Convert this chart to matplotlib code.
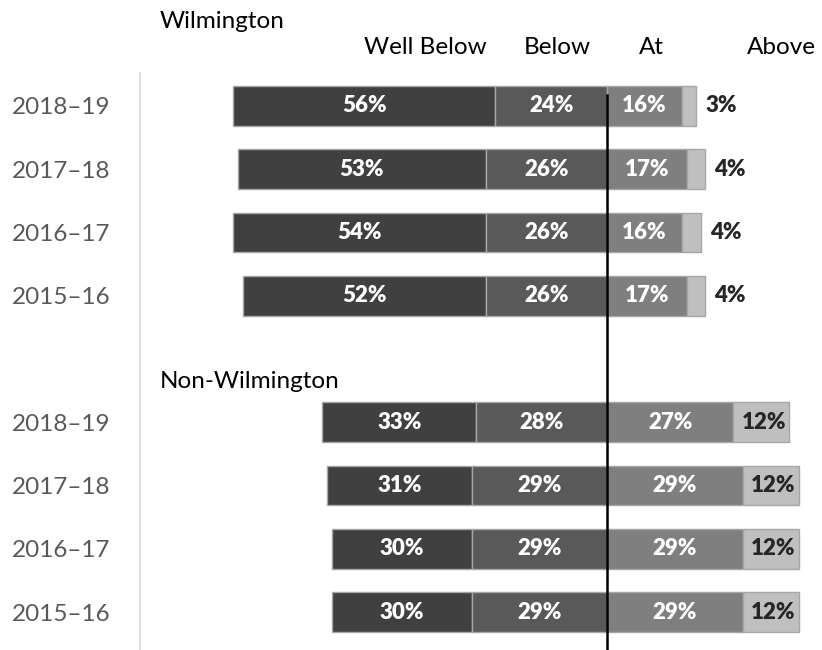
import numpy as np
import matplotlib.pyplot as plt

plt.rcParams['font.family'] = ['Lato', 'DejaVu Sans']

# datos
years = ["2018–19", "2017–18", "2016–17", "2015–16"]
groups = ["Wilmington", "Non-Wilmington"]
categories = ["Well Below", "Below", "At", "Above"]

well_below = [56, 53, 54, 52, 33, 31, 30, 30]
below = [24, 26, 26, 26, 28, 29, 29, 29]
at = [16, 17, 16, 17, 27, 29, 29, 29]
above = [3, 4, 4, 4, 12, 12, 12, 12]

colors = ["#404040", "#595959", "#7f7f7f", "#bfbfbf"]

# filas: 4 de Wilmington, una fila vacia, 4 de Non-Wilmington
rows = np.array([0, 1, 2, 3, 5, 6, 7, 8])

wb = np.array(well_below)
bl = np.array(below)
at_ = np.array(at)
ab = np.array(above)

fig = plt.figure(figsize=(8.22, 6.5), dpi=100)
ax = fig.add_axes([140 / 822, 0, 1 - 140 / 822, 1 - 73 / 650])

h = 0.63
edge = dict(edgecolor="#a6a6a6", linewidth=1)
ax.barh(rows, wb, left=-(wb + bl), height=h, color=colors[0], **edge)
ax.barh(rows, bl, left=-bl, height=h, color=colors[1], **edge)
ax.barh(rows, at_, left=0, height=h, color=colors[2], **edge)
ax.barh(rows, ab, left=at_, height=h, color=colors[3], **edge)

lab = dict(fontsize=16, fontweight="heavy", va="center", ha="center")
for i, r in enumerate(rows):
    ax.text(-(wb[i] + bl[i]) + wb[i] / 2, r, f"{wb[i]}%", color="white", **lab)
    ax.text(-bl[i] / 2, r, f"{bl[i]}%", color="white", **lab)
    ax.text(at_[i] / 2, r, f"{at_[i]}%", color="white", **lab)
    if ab[i] < 8:
        ax.text(at_[i] + ab[i] + 2, r, f"{ab[i]}%", color="#262626",
                fontsize=16, fontweight="heavy", va="center", ha="left")
    else:
        ax.text(at_[i] + ab[i] / 2 + 0.5, r, f"{ab[i]}%", color="#262626", **lab)

# etiquetas de los años
ax.set_yticks(rows)
ax.set_yticklabels(years + years, fontsize=17.5, color="#595959")
ax.tick_params(axis="y", length=0, pad=21)
ax.set_xticks([])

ax.set_xlim(-100, 46)
ax.set_ylim(8.6, -0.52)

for s in ["top", "right", "bottom"]:
    ax.spines[s].set_visible(False)
ax.spines["left"].set_color("#d9d9d9")
ax.spines["left"].set_linewidth(1.2)

# linea central
ax.plot([0, 0], [-0.17, 8.6], color="black", linewidth=1.8, clip_on=False)

# titulos de grupo y categorias
fig.text(160 / 822, 1 - 22 / 650, groups[0], fontsize=17.5, va="center", ha="left")
fig.text(160 / 822, 1 - 381 / 650, groups[1], fontsize=17.5, va="center", ha="left")
header_x = [425, 557, 651, 781]
for name, hx in zip(categories, header_x):
    fig.text(hx / 822, 1 - 47 / 650, name, fontsize=17.5, va="center", ha="center")

fig.savefig("out.png", dpi=100)
